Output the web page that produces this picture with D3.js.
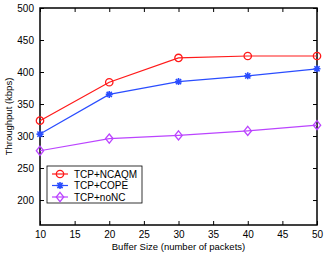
<!DOCTYPE html>
<html>
<head>
<meta charset="utf-8">
<script src="https://cdn.jsdelivr.net/npm/d3@7"></script>
<style>
  body { margin: 0; background: #fff; }
  text { font-family: "Liberation Sans", Arial, sans-serif; }
</style>
</head>
<body>
<div id="chart"></div>
<script>
// data
let bufferSizes = [10, 20, 30, 40, 50];
let ncaqm = [324, 384, 422, 425, 425];
let cope = [303, 365, 385, 394, 405];
let nonc = [277, 296, 301, 308, 317];
let xTicks = [10, 15, 20, 25, 30, 35, 40, 45, 50];
let yTicks = [200, 250, 300, 350, 400, 450, 500];

let svgWidth = 327, svgHeight = 253;
let margin = { top: 8, right: 10, bottom: 28, left: 40 };
let width = svgWidth - margin.left - margin.right;
let height = svgHeight - margin.top - margin.bottom;

let svg = d3.select("#chart").append("svg")
    .attr("width", svgWidth)
    .attr("height", svgHeight);

let g = svg.append("g")
    .attr("transform", `translate(${margin.left}, ${margin.top})`);

let x = d3.scaleLinear().domain([10, 50]).range([0, width]);
let y = d3.scaleLinear().domain([161, 500]).range([height, 0]);

// axes with inward ticks, boxed
let tick = 4;
g.append("g")
    .attr("transform", `translate(0, ${height})`)
    .call(d3.axisBottom(x).tickValues(xTicks).tickSize(-tick).tickPadding(6).tickSizeOuter(0))
    .call(a => a.select(".domain").remove());
g.append("g")
    .call(d3.axisTop(x).tickValues(xTicks).tickSize(-tick).tickFormat("").tickSizeOuter(0))
    .call(a => a.select(".domain").remove());
g.append("g")
    .call(d3.axisLeft(y).tickValues(yTicks).tickSize(-tick).tickPadding(6).tickSizeOuter(0))
    .call(a => a.select(".domain").remove());
g.append("g")
    .attr("transform", `translate(${width}, 0)`)
    .call(d3.axisRight(y).tickValues(yTicks).tickSize(-tick).tickFormat("").tickSizeOuter(0))
    .call(a => a.select(".domain").remove());

g.selectAll(".tick text").attr("font-size", 10).attr("fill", "#000");
g.selectAll(".tick line").attr("stroke", "#000");

g.append("rect")
    .attr("width", width).attr("height", height)
    .attr("fill", "none").attr("stroke", "#000").attr("stroke-width", 1.5);

let series = [
    { name: "TCP+NCAQM", values: ncaqm, color: "#ff1a1a", marker: "circle" },
    { name: "TCP+COPE", values: cope, color: "#2a4dff", marker: "star" },
    { name: "TCP+noNC", values: nonc, color: "#bb44ff", marker: "diamond" }
];

function drawMarker(sel, type, color) {
    if (type === "circle") {
        sel.append("circle").attr("r", 3.7).attr("fill", "none")
            .attr("stroke", color).attr("stroke-width", 1.3);
    } else if (type === "diamond") {
        sel.append("path").attr("d", "M0,-4.6L3.7,0L0,4.6L-3.7,0Z").attr("fill", "none")
            .attr("stroke", color).attr("stroke-width", 1.3);
    } else {
        sel.append("path").attr("d", "M-3.5,0L3.5,0M0,-3.5L0,3.5M-2.6,-2.6L2.6,2.6M-2.6,2.6L2.6,-2.6")
            .attr("stroke", color).attr("stroke-width", 1.6);
    }
}

let line = d3.line().x((d, i) => x(bufferSizes[i])).y(d => y(d));

series.forEach(s => {
    g.append("path").datum(s.values)
        .attr("d", line)
        .attr("fill", "none")
        .attr("stroke", s.color)
        .attr("stroke-width", 1.2);
    s.values.forEach((v, i) => {
        let m = g.append("g").attr("transform", `translate(${x(bufferSizes[i])}, ${y(v)})`);
        drawMarker(m, s.marker, s.color);
    });
});

// legend
let legend = svg.append("g").attr("transform", "translate(47, 166)");
legend.append("rect")
    .attr("width", 95).attr("height", 37)
    .attr("fill", "#fff").attr("stroke", "#000").attr("stroke-width", 0.8);
series.forEach((s, i) => {
    let row = legend.append("g").attr("transform", `translate(0, ${8 + i * 11.5})`);
    row.append("line").attr("x1", 5).attr("x2", 21).attr("y1", 0).attr("y2", 0)
        .attr("stroke", s.color).attr("stroke-width", 1.2);
    let m = row.append("g").attr("transform", "translate(13, 0)");
    drawMarker(m, s.marker, s.color);
    row.append("text").attr("x", 27).attr("y", 3.5)
        .attr("font-size", 10).text(s.name);
});

// axis labels
svg.append("text")
    .attr("transform", `translate(12, ${margin.top + height / 2}) rotate(-90)`)
    .attr("text-anchor", "middle")
    .attr("font-size", 9.5)
    .text("Throughput (kbps)");

svg.append("text")
    .attr("x", margin.left + width / 2)
    .attr("y", 250)
    .attr("text-anchor", "middle")
    .attr("font-size", 9.5)
    .text("Buffer Size (number of packets)");
</script>
</body>
</html>
